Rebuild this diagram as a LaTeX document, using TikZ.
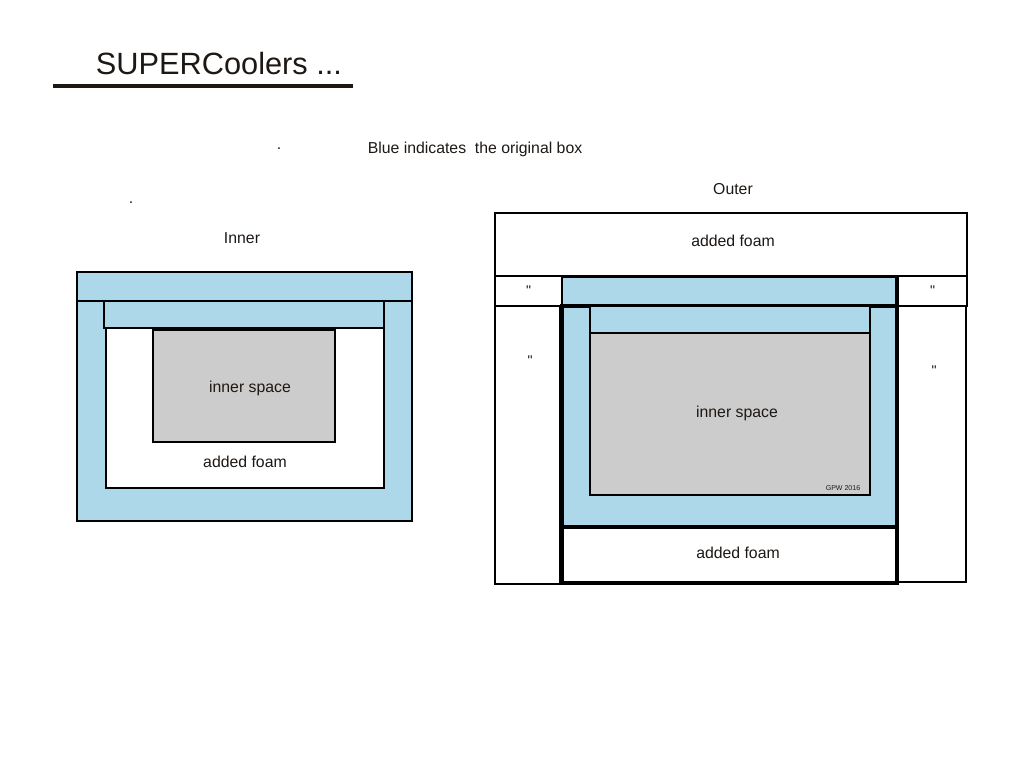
\documentclass[tikz,border=0pt]{standalone}
\usepackage{fontspec}
\setmainfont{Liberation Sans}
\usetikzlibrary{positioning}
\definecolor{boxblue}{RGB}{173,216,233}
\definecolor{cavitygray}{RGB}{204,204,204}
\definecolor{ink}{RGB}{30,24,20}

\begin{document}
\begin{tikzpicture}[x=0.02cm, y=-0.02cm, every node/.style={font=\fontsize{9}{11}\selectfont, text=ink},
    panel/.style={draw, rectangle, inner sep=0pt, outer sep=0pt, line width=1.1pt},
    orig/.style={panel, fill=boxblue},
    foam/.style={panel, fill=white},
    cavity/.style={panel, fill=cavitygray},
    ditto/.style={font=\fontsize{8}{9}\selectfont}]
    \useasboundingbox (0,0) rectangle (1024,768);
    % title
    \node[font=\fontsize{17.5}{20}\selectfont] (title) at (219,64) {SUPERCoolers ...};
    \coordinate (ruleL) at (53,86);
    \coordinate (ruleR) at (353,86);
    \draw[line width=2pt, ink] (ruleL) -- (ruleR);
    \node (note) at (475,149) {Blue indicates\ \ the original box};
    \node (dotA) at (279,149) {.};
    \node (dotB) at (131,203) {.};
    % inner cooler
    \node (innerLbl) at (242,238) {Inner};
    \node[orig, minimum width=6.70cm, minimum height=4.98cm] (inOuter) at (244.5,396.5) {};
    \node[orig, minimum width=6.70cm, minimum height=0.58cm] (inTop) at (244.5,286.5) {};
    \node[foam, minimum width=5.56cm, minimum height=3.20cm] (inFoam) at (245,408) {};
    \node[orig, line width=1.6pt, minimum width=5.60cm, minimum height=0.54cm] (inLid) at (244,314.5) {};
    \node[cavity, minimum width=3.64cm, minimum height=2.24cm] (inSpace) at (244,386) {};
    \node (inSpaceLbl) at (250,388) {inner space};
    \node (inFoamLbl) at (245,462) {added foam};
    % outer cooler
    \node (outerLbl) at (733,189) {Outer};
    \node[foam, minimum width=9.44cm, minimum height=1.26cm] (outTop) at (731,244.5) {};
    \node (outTopLbl) at (733,241) {added foam};
    \node[foam, ditto, minimum width=1.34cm, minimum height=0.60cm] (outTL) at (528.5,291) {\textquotedbl};
    \node[foam, ditto, minimum width=1.38cm, minimum height=0.60cm] (outTR) at (932.5,291) {\textquotedbl};
    \node[orig, minimum width=6.68cm, minimum height=0.58cm] (outStrip) at (729,291.5) {};
    \node[foam, minimum width=1.30cm, minimum height=5.56cm] (outL) at (527.5,445) {};
    \node[foam, minimum width=1.36cm, minimum height=5.52cm] (outR) at (932,444) {};
    \node[ditto] (outLMark) at (530,361) {\textquotedbl};
    \node[ditto] (outRMark) at (934,371) {\textquotedbl};
    \node[orig, line width=2.2pt, minimum width=6.70cm, minimum height=4.42cm] (outBlue) at (729.5,416.5) {};
    \node[orig, minimum width=5.60cm, minimum height=0.54cm] (outLid) at (730,319.5) {};
    \node[cavity, minimum width=5.60cm, minimum height=3.24cm] (outSpace) at (730,414) {};
    \node (outSpaceLbl) at (737,413) {inner space};
    \node[font=\fontsize{4}{5}\selectfont] (gpw) at (843,488) {GPW 2016};
    \node[foam, line width=1.8pt, minimum width=6.70cm, minimum height=1.12cm] (outBot) at (729.5,555) {};
    \node (outBotLbl) at (738,553) {added foam};
\end{tikzpicture}
\end{document}
